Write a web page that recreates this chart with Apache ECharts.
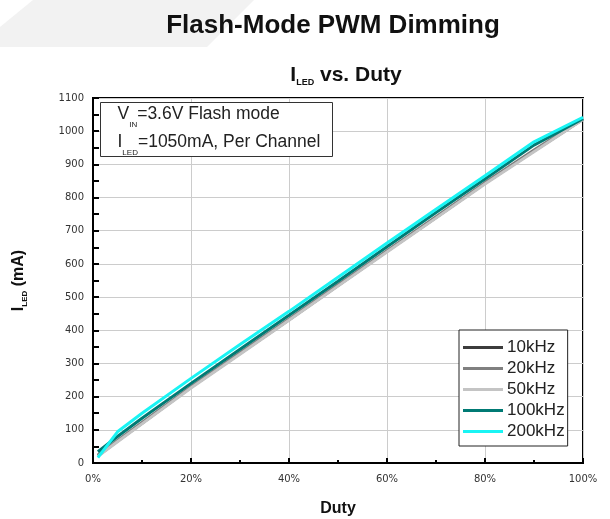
<!DOCTYPE html>
<html>
<head>
<meta charset="utf-8">
<style>
  html, body { margin: 0; padding: 0; background: #fff; }
  #chart { width: 610px; height: 519px; }
</style>
<script src="https://cdn.jsdelivr.net/npm/echarts@6/dist/echarts.min.js"></script>
</head>
<body>
<div id="chart"></div>
<script>
// Duty cycle sample points (%)
const duty = [1, 5, 10, 20, 30, 40, 50, 60, 70, 80, 90, 100];

// LED current (mA) for each PWM frequency
const i10k  = [22, 66, 120, 228, 330, 432, 535, 638, 740, 843, 940, 1036];
const i20k  = [24, 68, 122, 230, 332, 434, 537, 640, 742, 845, 943, 1037];
const i50k  = [20, 64, 118, 226, 328, 430, 533, 636, 738, 841, 938, 1035];
const i100k = [34, 80, 135, 240, 343, 445, 548, 652, 755, 856, 958, 1038];
const i200k = [16, 94, 150, 255, 357, 457, 560, 663, 765, 866, 968, 1042];

const seriesNames = ['10kHz', '20kHz', '50kHz', '100kHz', '200kHz'];
const seriesColors = ['#3c3c3c', '#808080', '#c4c4c4', '#007a74', '#19f4f4'];
const seriesValues = [i10k, i20k, i50k, i100k, i200k];

const chart = echarts.init(document.getElementById('chart'), null, { renderer: 'canvas' });

const font = '"Liberation Sans", Arial, sans-serif';
const tickFont = '"DejaVu Sans", sans-serif';

const option = {
  backgroundColor: '#ffffff',
  animation: false,
  title: [
    {
      text: 'Flash-Mode PWM Dimming',
      left: 328, top: 8, textAlign: 'center',
      textStyle: { fontFamily: font, fontSize: 26, fontWeight: 'bold', color: '#111' }
    },
    {
      text: '{m|I}{s|LED}{m| vs. Duty}',
      left: 341, top: 58, textAlign: 'center',
      textStyle: {
        fontFamily: font, fontSize: 21, fontWeight: 'bold', color: '#111',
        rich: {
          m: { fontFamily: font, fontSize: 21, fontWeight: 'bold', color: '#111', lineHeight: 24, verticalAlign: 'middle' },
          s: { fontFamily: font, fontSize: 9, fontWeight: 'bold', color: '#111', lineHeight: 24, verticalAlign: 'bottom' }
        }
      }
    }
  ],
  graphic: [
    {
      type: 'polygon', z: -10, silent: true,
      shape: { points: [[33, 0], [254, 0], [207, 47], [0, 47], [0, 27]] },
      style: { fill: '#f2f2f2' }
    },
    {
      type: 'group', left: 100, top: 102, z: 100,
      children: [
        {
          type: 'rect', z: 100,
          shape: { x: 0, y: 0, width: 232, height: 54 },
          style: { fill: '#fff', stroke: '#333', lineWidth: 1 }
        },
        {
          type: 'text', z: 101, x: 17, y: -2,
          style: {
            text: '{m|V}{s|IN}{m|=3.6V Flash mode}\n{m|I}{s|LED}{m|=1050mA, Per Channel}',
            rich: {
              m: { fontFamily: font, fontSize: 17.5, fill: '#222', lineHeight: 28, verticalAlign: 'middle' },
              s: { fontFamily: font, fontSize: 8, fill: '#222', lineHeight: 28, verticalAlign: 'bottom' }
            }
          }
        }
      ]
    }
  ],
  legend: {
    orient: 'vertical',
    left: 459, top: 330,
    padding: [9, 3, 6, 4],
    itemGap: 4,
    itemWidth: 40,
    itemHeight: 3,
    icon: 'rect',
    backgroundColor: '#fff',
    borderColor: '#222',
    borderWidth: 1,
    borderRadius: 0,
    data: seriesNames,
    textStyle: { fontFamily: font, fontSize: 17, color: '#222', padding: [0, 0, 0, -1] },
    z: 100
  },
  grid: {
    left: 93, right: 27, top: 98, bottom: 56,
    containLabel: false,
    outerBoundsMode: 'none',
    show: true,
    borderColor: '#000',
    borderWidth: 2,
    backgroundColor: '#fff'
  },
  xAxis: {
    type: 'value',
    min: 0, max: 100, interval: 20,
    name: 'Duty',
    nameLocation: 'middle',
    nameGap: 38,
    nameTextStyle: { fontFamily: font, fontSize: 16, fontWeight: 'bold', color: '#111' },
    axisLine: { show: true, onZero: false, lineStyle: { color: '#000', width: 2 } },
    axisTick: { show: true, inside: true, length: 5, lineStyle: { color: '#000', width: 2 } },
    minorTick: { show: true, splitNumber: 2, length: 3, lineStyle: { color: '#000', width: 2 } },
    axisLabel: { margin: 11, formatter: '{value}%', fontFamily: tickFont, fontSize: 10, color: '#333' },
    splitLine: { show: true, lineStyle: { color: '#cccccc', width: 1 } }
  },
  yAxis: {
    type: 'value',
    min: 0, max: 1100, interval: 100,
    name: '{m|I}{s|LED}{m| (mA)}',
    nameLocation: 'middle',
    nameGap: 64,
    nameRotate: 90,
    nameTextStyle: {
      rich: {
        m: { fontFamily: font, fontSize: 16, fontWeight: 'bold', color: '#111', lineHeight: 20, verticalAlign: 'middle' },
        s: { fontFamily: font, fontSize: 8, fontWeight: 'bold', color: '#111', lineHeight: 20, verticalAlign: 'bottom' }
      }
    },
    axisLine: { show: true, onZero: false, lineStyle: { color: '#000', width: 2 } },
    axisTick: { show: true, inside: true, length: 6, lineStyle: { color: '#000', width: 2 } },
    minorTick: { show: true, splitNumber: 2, length: 6, lineStyle: { color: '#000', width: 2 } },
    axisLabel: { margin: 9, formatter: (v) => String(v), fontFamily: tickFont, fontSize: 10, color: '#333' },
    splitLine: { show: true, lineStyle: { color: '#cccccc', width: 1 } }
  },
  series: seriesNames.map((name, k) => ({
    name: name,
    type: 'line',
    symbol: 'none',
    color: seriesColors[k],
    lineStyle: { color: seriesColors[k], width: 3 },
    data: duty.map((d, j) => [d, seriesValues[k][j]]),
    z: 2 + k
  }))
};

chart.setOption(option);
</script>
</body>
</html>
